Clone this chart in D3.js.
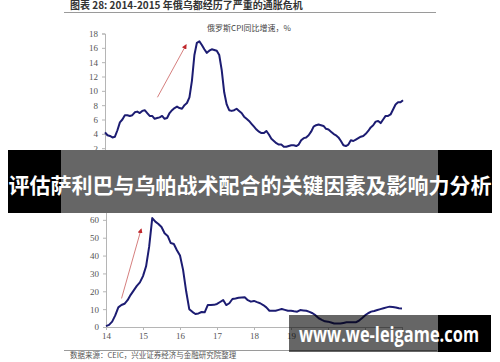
<!DOCTYPE html>
<html>
<head>
<meta charset="utf-8">
<script src="https://cdn.jsdelivr.net/npm/d3@7"></script>
<style>
  body { margin: 0; background: #fff; }
  svg { display: block; }
</style>
</head>
<body>
<script>
// monthly CPI, y/y %, first value = January of the start year (20xx)
var ruStart = 12,
    uaStart = 14;

var ruCPI = [
  4.2, 3.8, 3.7, 3.5, 3.6, 4.5, 5.6, 6.0, 6.6, 6.6, 6.5, 6.6,
  7.0, 7.1, 6.9, 7.2, 7.3, 6.9, 6.5, 6.5, 6.1, 6.2, 6.3, 6.5,
  6.1, 6.2, 6.9, 7.3, 7.6, 7.8, 7.6, 7.5, 8.0, 8.3, 9.1, 11.4,
  15.0, 16.7, 16.9, 16.4, 15.8, 15.3, 15.6, 15.8, 15.7, 15.6, 15.0, 12.9,
  9.8, 8.1, 7.3, 7.2, 7.3, 7.5, 7.2, 6.9, 6.4, 6.1, 5.8, 5.4,
  5.0, 4.6, 4.3, 4.1, 4.1, 4.4, 3.9, 3.3, 3.0, 2.7, 2.5, 2.5,
  2.2, 2.2, 2.3, 2.4, 2.4, 2.3, 2.5, 3.1, 3.4, 3.5, 3.8, 4.3,
  5.0, 5.2, 5.3, 5.2, 5.1, 4.7, 4.6, 4.3, 4.0, 3.8, 3.5, 3.0,
  2.4, 2.3, 2.5, 3.1, 3.0, 3.2, 3.4, 3.6, 3.7, 4.0, 4.4, 4.9,
  5.2, 5.7, 5.8, 5.5, 6.0, 6.5, 6.5, 6.7, 7.4, 8.1, 8.4, 8.4,
  8.7
];

var uaCPI = [
  0.5, 1.2, 3.0, 6.5, 11.0, 12.3, 13.0, 15.0, 18.0, 20.5, 23.0, 25.0,
  28.5, 34.0, 45.0, 61.0, 59.0, 57.7, 56.0, 52.5, 51.0, 47.0, 46.5, 43.0,
  40.0, 32.0, 20.0, 10.0, 8.5, 7.3, 7.6, 8.4, 8.2, 12.3, 12.3, 12.4,
  12.9, 14.0, 15.1, 12.3, 13.3, 15.7, 16.0, 16.4, 16.5, 16.6, 15.0, 14.2,
  14.6, 13.9, 13.3, 12.3, 11.0, 9.1, 9.1, 9.1, 9.6, 10.1, 9.6, 9.1,
  9.1, 8.8, 8.6, 9.5, 9.3, 9.1, 8.5, 7.7, 6.5, 4.9, 4.0, 3.2,
  3.0, 2.5, 2.0, 2.0, 2.0, 2.3, 2.6, 2.6, 2.6, 2.6, 3.5, 4.9,
  6.5, 7.7, 8.6, 9.0, 9.5, 10.0, 10.5, 11.0, 11.4, 11.2, 10.9, 10.5,
  10.4
];

var ruXTicks = [12, 13, 14, 15, 16, 17, 18, 19, 20, 21, 22],
    ruYTicks = [0, 2, 4, 6, 8, 10, 12, 14, 16, 18],
    uaXTicks = [14, 15, 16, 17, 18, 19, 20, 21, 22],
    uaXLabels = [14, 15, 16, 17, 18, 19],   // the rest sit under the watermark
    uaYTicks = [0, 10, 20, 30, 40, 50, 60, 70];

// arrows drawn on the charts: [x0, y0, x1, y1] in data units
var ruArrow = [13.76, 9.1, 14.72, 16.4],
    uaArrow = [14.42, 16, 14.95, 54.8];

var figTitle = "图表 28:  2014-2015 年俄乌都经历了严重的通胀危机",
    ruTitle = "俄罗斯CPI同比增速，%",
    uaTitle = "乌克兰CPI同比增速，%",
    sourceText = "数据来源：CEIC，兴业证券经济与金融研究院整理",
    bannerText = "评估萨利巴与乌帕战术配合的关键因素及影响力分析",
    markText = "www.we-leigame.com";

var width = 500,
    height = 362;

var svg = d3.select("body")
    .append("svg")
    .attr("width", width)
    .attr("height", height);

var defs = svg.append("defs");
defs.append("marker")
    .attr("id", "arrowhead")
    .attr("viewBox", "0 0 10 10")
    .attr("refX", 8)
    .attr("refY", 5)
    .attr("markerWidth", 5)
    .attr("markerHeight", 5)
    .attr("markerUnits", "userSpaceOnUse")
    .attr("orient", "auto")
  .append("path")
    .attr("d", "M0,0L10,5L0,10Z")
    .attr("fill", "#c0282d");

var serif = "'Liberation Serif', 'DejaVu Serif', serif",
    cjk = "'Noto Sans CJK SC', sans-serif";

//figure header
svg.append("text")
    .attr("x", 70)
    .attr("y", 9)
    .attr("font-family", cjk)
    .attr("font-weight", "bold")
    .attr("font-size", 10)
    .attr("fill", "#333")
    .text(figTitle);

svg.append("line")
    .attr("x1", 64).attr("x2", 436)
    .attr("y1", 12.5).attr("y2", 12.5)
    .attr("stroke", "#9a9a9a")
    .attr("stroke-width", 1);

//draw one chart panel
function drawPanel(opts){
    var x = d3.scaleLinear()
        .domain([opts.xTicks[0], opts.xTicks[opts.xTicks.length - 1]])
        .range(opts.xRange);
    var y = d3.scaleLinear()
        .domain([opts.yTicks[0], opts.yTicks[opts.yTicks.length - 1]])
        .range(opts.yRange);

    var g = svg.append("g");

    var labels = opts.xLabels || opts.xTicks;

    var yAxis = g.append("g")
        .attr("transform", "translate(" + opts.xRange[0] + ",0)")
        .call(d3.axisLeft(y).tickValues(opts.yTicks).tickSize(3).tickPadding(4).tickFormat(d3.format("d")));
    var xAxis = g.append("g")
        .attr("transform", "translate(0," + opts.yRange[0] + ")")
        .call(d3.axisBottom(x).tickValues(opts.xTicks).tickSize(3).tickPadding(3)
            .tickFormat(function(d){ return labels.indexOf(d) >= 0 ? d : ""; }));

    [yAxis, xAxis].forEach(function(a){
        a.selectAll("path, line").attr("stroke", "#b5b5b5");
        a.selectAll("text")
            .attr("font-family", serif)
            .attr("font-size", 9)
            .attr("fill", "#555");
    });

    g.append("text")
        .attr("x", 249)
        .attr("y", opts.titleY)
        .attr("text-anchor", "middle")
        .attr("font-family", cjk)
        .attr("font-size", 8)
        .attr("fill", "#444")
        .text(opts.title);

    var line = d3.line()
        .x(function(d, i){ return x(opts.start + i / 12); })
        .y(function(d){ return y(d); });

    g.append("path")
        .datum(opts.values)
        .attr("d", line)
        .attr("fill", "none")
        .attr("stroke", "#1c1c72")
        .attr("stroke-width", 2)
        .attr("stroke-linejoin", "round");

    g.append("line")
        .attr("x1", x(opts.arrow[0])).attr("y1", y(opts.arrow[1]))
        .attr("x2", x(opts.arrow[2])).attr("y2", y(opts.arrow[3]))
        .attr("stroke", "#d0706f")
        .attr("stroke-width", 0.9)
        .attr("marker-end", "url(#arrowhead)");
}

drawPanel({
    values: ruCPI, start: ruStart,
    xTicks: ruXTicks, yTicks: ruYTicks,
    xRange: [105, 403], yRange: [162.5, 33.5],
    title: ruTitle, titleY: 31,
    arrow: ruArrow
});

drawPanel({
    values: uaCPI, start: uaStart,
    xTicks: uaXTicks, xLabels: uaXLabels, yTicks: uaYTicks,
    xRange: [106, 402], yRange: [327, 202],
    title: uaTitle, titleY: 202,
    arrow: uaArrow
});

//source line
svg.append("line")
    .attr("x1", 64).attr("x2", 437)
    .attr("y1", 350.5).attr("y2", 350.5)
    .attr("stroke", "#9a9a9a");

svg.append("text")
    .attr("x", 70)
    .attr("y", 358)
    .attr("font-family", cjk)
    .attr("font-size", 7.5)
    .attr("fill", "#555")
    .text(sourceText);

//overlay banner
svg.append("rect")
    .attr("x", 8).attr("y", 150).attr("width", 484).attr("height", 63)
    .attr("fill", "#000");
svg.append("rect")
    .attr("x", 61).attr("y", 150).attr("width", 377).attr("height", 63)
    .attr("fill", "#fff");
svg.append("rect")
    .attr("x", 61).attr("y", 150).attr("width", 377).attr("height", 63)
    .attr("fill", "rgba(0,0,0,0.6)");

svg.append("text")
    .attr("x", 250)
    .attr("y", 193)
    .attr("text-anchor", "middle")
    .attr("font-family", cjk)
    .attr("font-weight", "bold")
    .attr("font-size", 21)
    .attr("fill", "#fff")
    .text(bannerText);

//watermark box
svg.append("rect")
    .attr("x", 289).attr("y", 315).attr("width", 149).attr("height", 37)
    .attr("fill", "rgba(0,0,0,0.6)");
svg.append("rect")
    .attr("x", 438).attr("y", 315).attr("width", 53).attr("height", 37)
    .attr("fill", "#000");

svg.append("text")
    .attr("x", 299)
    .attr("y", 342)
    .attr("font-family", "'Open Sans', 'Noto Sans', sans-serif")
    .attr("font-weight", "bold")
    .attr("font-size", 21)
    .attr("textLength", 180)
    .attr("lengthAdjust", "spacingAndGlyphs")
    .attr("fill", "#fff")
    .text(markText);
</script>
</body>
</html>
